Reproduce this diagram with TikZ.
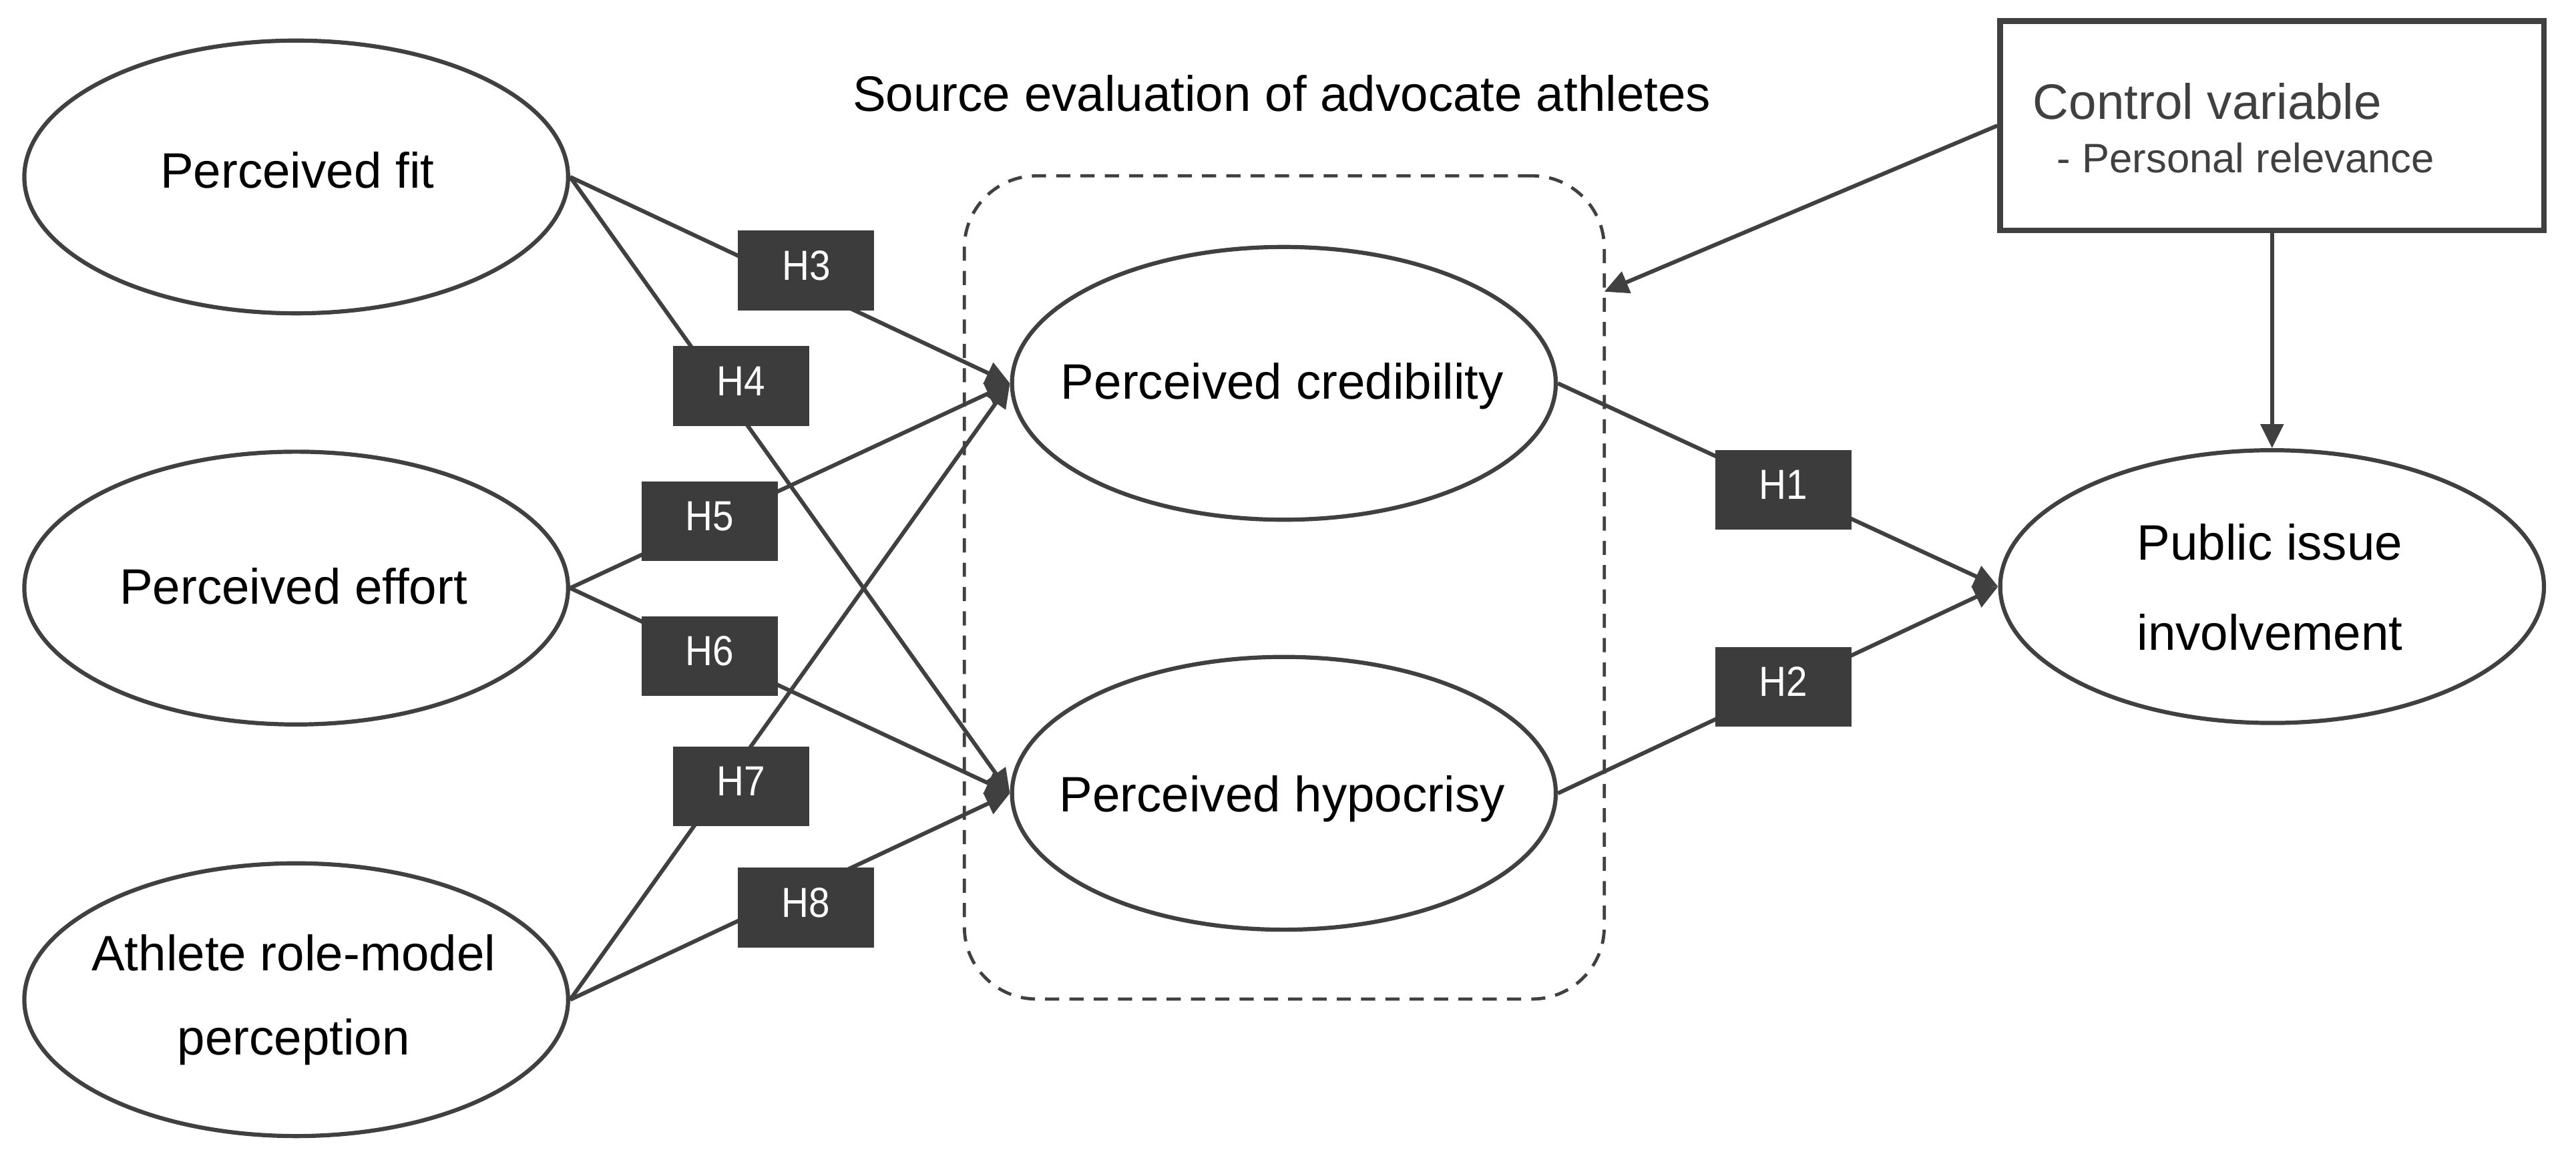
\documentclass[tikz,border=0pt]{standalone}
\usepackage{fontspec}
\setmainfont{Liberation Sans}
\newfontfamily\hfont[FakeStretch=0.9]{Liberation Sans}
\usetikzlibrary{arrows.meta,shapes.geometric}
\definecolor{ln}{HTML}{404040}
\definecolor{hfill}{HTML}{3C3C3C}
\def\U{0.6151pt}
\tikzset{
  ell/.style={draw=ln, line width=1.55pt, ellipse, fill=white, inner sep=0pt,
    minimum width=331*\U, minimum height=166*\U},
  lab/.style={font=\fontsize{18.64}{22}\selectfont, text=black, inner sep=0pt, anchor=base},
  hyp/.style={fill=hfill, draw=none, inner sep=0pt, minimum width=83*\U, minimum height=48.5*\U,
    text=white, font=\hfont\fontsize{15.75}{18}\selectfont, text height=0.716em, text depth=0pt},
  conn/.style={draw=ln, line width=1.5pt},
  arr/.style={conn, -{Triangle[length=9pt, width=8.5pt]}},
}
\begin{document}
\begin{tikzpicture}[x=0.6151pt, y=-0.6151pt]
\useasboundingbox[fill=white] (0,0) rectangle (1568,703.5);

% dashed group box
\node[draw=ln, dash pattern=on 5.3pt off 3.8pt, line width=1.2pt, rounded corners=27pt,
  minimum width=389.5*\U, minimum height=501*\U, inner sep=0pt] (grp) at (781.75,357.5) {};
\node[lab] (title) at (780.2,67.6) {Source evaluation of advocate athletes};

% control variable box
\node[draw=ln, line width=2.2pt, minimum width=331*\U, minimum height=127.5*\U, inner sep=0pt] (ctrl) at (1383,76.5) {};
\node[lab, anchor=base west, text=ln] (ctrlA) at (1237.2,72.7) {Control variable};
\node[lab, anchor=base west, text=ln, font=\fontsize{15.4}{18}\selectfont] (ctrlB) at (1251.8,104.9) {- Personal relevance};

% ellipses
\node[ell] (fit) at (180.3,107.7) {};
\node[ell] (eff) at (180.3,357.9) {};
\node[ell] (role) at (180.3,608.4) {};
\node[ell] (cred) at (781.5,233.3) {};
\node[ell] (hypo) at (781.5,482.8) {};
\node[ell] (pii) at (1383,357) {};

\node[lab] (fitT) at (181,114.4) {Perceived fit};
\node[lab] (effT) at (178.6,367.6) {Perceived effort};
\node[lab] (roleA) at (178.7,590.6) {Athlete role-model};
\node[lab] (roleB) at (178.7,642) {perception};
\node[lab] (credT) at (780.5,242.8) {Perceived credibility};
\node[lab] (hypoT) at (780.4,494.1) {Perceived hypocrisy};
\node[lab] (piiA) at (1381.6,340.7) {Public issue};
\node[lab] (piiB) at (1381.6,395.7) {involvement};

% connectors
\draw[arr] (fit.east) -- (cred.west);
\draw[arr] (fit.east) -- (hypo.west);
\draw[arr] (eff.east) -- (cred.west);
\draw[arr] (eff.east) -- (hypo.west);
\draw[arr] (role.east) -- (cred.west);
\draw[arr] (role.east) -- (hypo.west);
\draw[arr] (cred.east) -- (pii.west);
\draw[arr] (hypo.east) -- (pii.west);
\coordinate (ctip) at (976.5,177.5);
\draw[arr] (ctrl.west) -- (ctip);
\draw[arr] (ctrl.south) -- (pii.north);

% hypothesis labels
\node[hyp] (h3) at (490.7,164.6) {H3};
\node[hyp] (h4) at (451,234.9) {H4};
\node[hyp] (h5) at (432,317.1) {H5};
\node[hyp] (h6) at (432,399.2) {H6};
\node[hyp] (h7) at (451,478.5) {H7};
\node[hyp] (h8) at (490.5,552.3) {H8};
\node[hyp] (h1) at (1085.6,298.1) {H1};
\node[hyp] (h2) at (1085.4,418) {H2};
\end{tikzpicture}
\end{document}
